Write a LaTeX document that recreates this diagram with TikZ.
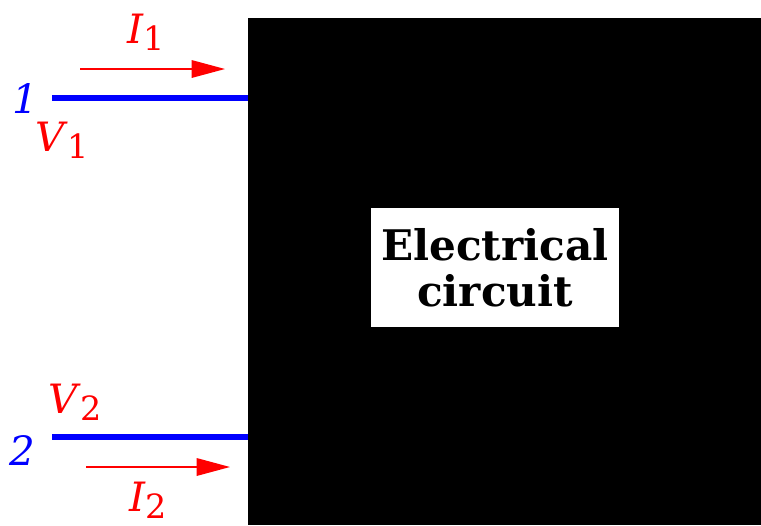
\documentclass[tikz,border=0pt]{standalone}
\usepackage{fontspec}
\setmainfont{DejaVu Serif}
\usetikzlibrary{arrows.meta,positioning}
\definecolor{wireblue}{RGB}{0,0,255}
\definecolor{labred}{RGB}{255,0,0}
\newcommand{\portlab}[2]{\textit{#1}\raisebox{-4pt}{\fontsize{19}{19}\selectfont #2}}

\begin{document}
\begin{tikzpicture}[x=0.02cm, y=-0.02cm,
    wire/.style={draw=wireblue, line width=3.4pt},
    flow/.style={draw=labred, line width=0.85pt, -{Triangle[length=19pt, width=10pt]}},
    portnum/.style={text=wireblue, font=\fontsize{23}{23}\selectfont\itshape, inner sep=0pt},
    qty/.style={text=labred, font=\fontsize{23}{23}\selectfont, inner sep=0pt}]
  \useasboundingbox (0,0) rectangle (761,525);
  % the black box and its title
  \node[fill=black, minimum width=10.26cm, minimum height=10.14cm, anchor=north west, inner sep=0pt] (circ) at (248,18) {};
  \node[fill=white, minimum width=4.96cm, minimum height=2.38cm, inner sep=0pt, align=center,
        font=\fontsize{24}{26}\selectfont\bfseries] (title) at (495,267.5) {Electrical\\circuit};
  % port 1
  \node[portnum] (p1) at (25,98) {1};
  \coordinate (w1) at (52,98);
  \draw[wire] (w1) -- (w1 -| circ.west);
  \node[qty] (v1) at (62,140) {\portlab{V}{1}};
  \coordinate (f1s) at (80,69);
  \coordinate (f1e) at (225,69);
  \draw[flow] (f1s) -- (f1e);
  \node[qty] (i1) at (146,32) {\portlab{I}{1}};
  % port 2
  \node[portnum] (p2) at (22,450) {2};
  \coordinate (w2) at (52,437);
  \draw[wire] (w2) -- (w2 -| circ.west);
  \node[qty] (v2) at (75,402) {\portlab{V}{2}};
  \coordinate (f2s) at (86,467);
  \coordinate (f2e) at (230,467);
  \draw[flow] (f2s) -- (f2e);
  \node[qty] (i2) at (148,500) {\portlab{I}{2}};
\end{tikzpicture}
\end{document}
